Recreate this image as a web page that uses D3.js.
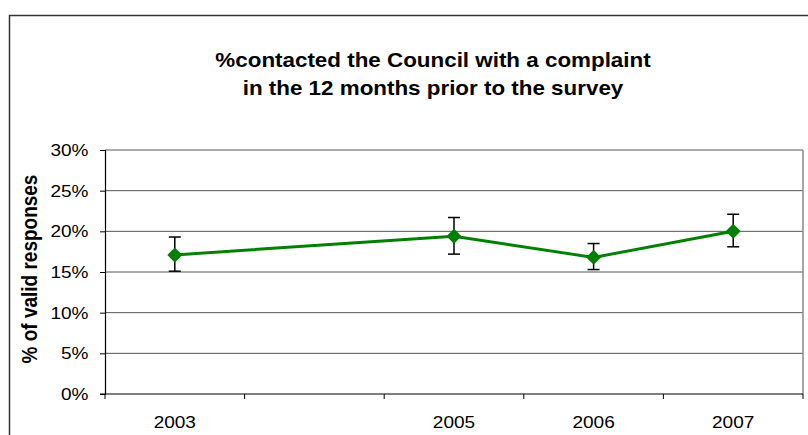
<!DOCTYPE html>
<html><head><meta charset="utf-8">
<script src="https://cdn.jsdelivr.net/npm/d3@7"></script>
<style>
  body { margin: 0; background: #fff; }
  svg { display: block; font-family: "Liberation Sans", Arial, sans-serif; }
</style>
</head><body>
<svg id="chart" width="808" height="435"></svg>
<script>
// Survey years (2004 has no survey, so its slot stays empty)
const years = ["2003", "2004", "2005", "2006", "2007"];
const yearLabels = ["2003", "", "2005", "2006", "2007"];
// % who contacted the Council with a complaint, with confidence limits
const percentValues = [17.1, null, 19.4, 16.8, 20.0];
const lowerLimits = [15.1, null, 17.2, 15.3, 18.1];
const upperLimits = [19.3, null, 21.7, 18.5, 22.1];
const yTicks = [0, 5, 10, 15, 20, 25, 30];
const titleLines = ["%contacted the Council with a complaint", "in the 12 months prior to the survey"];
const yTitle = "% of valid responses";

const svg = d3.select("#chart");
const plot = { left: 105, right: 803, top: 150, bottom: 394 };
const WIDEN = 1.12; // slightly wide lettering

// Text helper: anchored at (x, y), glyphs widened horizontally
function label(parent, x, y, str, opts = {}) {
  return parent.append("text")
    .attr("transform", `translate(${x},${y}) scale(${WIDEN},1)` + (opts.rotate ? ` rotate(${opts.rotate})` : ""))
    .attr("text-anchor", opts.anchor || "middle")
    .attr("font-size", opts.size || 17)
    .attr("font-weight", opts.weight || "normal")
    .attr("fill", "#000")
    .text(str);
}

// Outer chart frame (runs off the right and bottom edges)
svg.append("rect")
  .attr("x", 9.5).attr("y", 15.5)
  .attr("width", 820).attr("height", 440)
  .attr("fill", "#fff").attr("stroke", "#333").attr("stroke-width", 1.5);

const x = d3.scaleBand().domain(years).range([plot.left, plot.right]);
const y = d3.scaleLinear().domain([0, 30]).range([plot.bottom, plot.top]);

// Horizontal gridlines
svg.append("g").selectAll("line").data(yTicks.filter(d => d > 0)).join("line")
  .attr("x1", plot.left).attr("x2", plot.right)
  .attr("y1", d => y(d)).attr("y2", d => y(d))
  .attr("stroke", "#555").attr("stroke-width", 1);

// Plot-area right border
svg.append("line")
  .attr("x1", plot.right).attr("x2", plot.right)
  .attr("y1", plot.top).attr("y2", plot.bottom)
  .attr("stroke", "#888").attr("stroke-width", 1.5);

// Y axis (line and ticks from d3, labels drawn widened)
const yAxis = svg.append("g")
  .attr("transform", `translate(${plot.left},0)`)
  .call(d3.axisLeft(y).tickValues(yTicks).tickFormat(d => d + "%").tickSize(5));
yAxis.select(".domain").attr("stroke", "#000").attr("stroke-width", 1.2);
yAxis.selectAll(".tick line").attr("stroke", "#000");
yAxis.selectAll(".tick text").remove();
const yLabels = svg.append("g");
yTicks.forEach(t => label(yLabels, 88.5, y(t) + 6, t + "%", { anchor: "end", size: 17 }));

// X axis: ticks at category boundaries, labels centred in each band
const xAxis = svg.append("g").attr("transform", `translate(0,${plot.bottom})`);
xAxis.append("line")
  .attr("x1", plot.left - 5).attr("x2", plot.right)
  .attr("stroke", "#000").attr("stroke-width", 1.2);
const boundaries = years.map(d => x(d)).concat([x(years[years.length - 1]) + x.bandwidth()]);
xAxis.selectAll("line.tick").data(boundaries).join("line")
  .attr("class", "tick")
  .attr("x1", d => d).attr("x2", d => d)
  .attr("y1", 0).attr("y2", 5)
  .attr("stroke", "#000");
years.forEach((d, i) => label(xAxis, x(d) + x.bandwidth() / 2, 34, yearLabels[i], { size: 17 }));

// Title
titleLines.forEach((line, i) => label(svg, 433, 67 + i * 28, line, { size: 20, weight: "bold" }));

// Y axis title
svg.append("text")
  .attr("transform", `translate(36.5,269) scale(${WIDEN},1) rotate(-90)`)
  .attr("text-anchor", "middle")
  .attr("font-size", 19).attr("font-weight", "bold")
  .text(yTitle);

// Series points
const points = years.map((d, i) => ({
  year: d, value: percentValues[i], lo: lowerLimits[i], hi: upperLimits[i]
})).filter(p => p.value != null);
const cx = p => x(p.year) + x.bandwidth() / 2;

// Line joining the survey years
svg.append("path")
  .datum(points)
  .attr("fill", "none")
  .attr("stroke", "#008000").attr("stroke-width", 3)
  .attr("d", d3.line().x(cx).y(p => y(p.value)));

// Error bars
const err = svg.append("g").attr("stroke", "#000").attr("stroke-width", 1.5);
err.selectAll("line.v").data(points).join("line").attr("class", "v")
  .attr("x1", cx).attr("x2", cx)
  .attr("y1", p => y(p.lo)).attr("y2", p => y(p.hi));
err.selectAll("line.top").data(points).join("line").attr("class", "top")
  .attr("x1", p => cx(p) - 6).attr("x2", p => cx(p) + 6)
  .attr("y1", p => y(p.hi)).attr("y2", p => y(p.hi));
err.selectAll("line.bot").data(points).join("line").attr("class", "bot")
  .attr("x1", p => cx(p) - 6).attr("x2", p => cx(p) + 6)
  .attr("y1", p => y(p.lo)).attr("y2", p => y(p.lo));

// Diamond markers
svg.append("g").selectAll("path").data(points).join("path")
  .attr("transform", p => `translate(${cx(p)},${y(p.value)})`)
  .attr("d", "M0,-7.5L7.5,0L0,7.5L-7.5,0Z")
  .attr("fill", "#008000");
</script>
</body></html>
